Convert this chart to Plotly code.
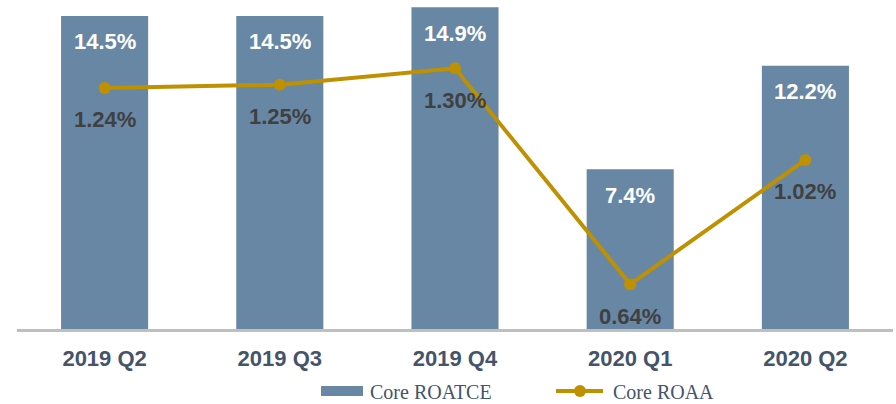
import plotly.graph_objects as go

categories = ["2019 Q2", "2019 Q3", "2019 Q4", "2020 Q1", "2020 Q2"]
roatce = [14.5, 14.5, 14.9, 7.4, 12.2]
roaa = [1.24, 1.25, 1.30, 0.64, 1.02]
roatce_labels = ["14.5%", "14.5%", "14.9%", "7.4%", "12.2%"]
roaa_labels = ["1.24%", "1.25%", "1.30%", "0.64%", "1.02%"]
series_names = ["Core ROATCE", "Core ROAA"]

BAR_COLOR = "#6787A5"
LINE_COLOR = "#BF9000"
TICK_COLOR = "#44546A"
LABEL_DARK = "#404040"

W, H = 896, 404
ML, MR, MT, MB = 17, 3, 0, 75

fig = go.Figure()
fig.add_trace(go.Bar(x=categories, y=roatce, name=series_names[0],
                     marker=dict(color=BAR_COLOR, line=dict(width=0)),
                     showlegend=False, yaxis="y"))
fig.add_trace(go.Scatter(x=categories, y=roaa, name=series_names[1],
                         mode="lines+markers",
                         line=dict(color=LINE_COLOR, width=4),
                         marker=dict(color=LINE_COLOR, size=12),
                         showlegend=False, yaxis="y2"))

annotations = []
for c, v, t in zip(categories, roatce, roatce_labels):
    annotations.append(dict(x=c, y=v, xref="x", yref="y", text=t, showarrow=False,
                            yshift=-26,
                            font=dict(family="Arial", size=22, color="white", weight="bold"),
                            xanchor="center", yanchor="middle"))
for c, v, t in zip(categories, roaa, roaa_labels):
    annotations.append(dict(x=c, y=v, xref="x", yref="y2", text=t, showarrow=False,
                            yshift=-32,
                            font=dict(family="Arial", size=22, color=LABEL_DARK, weight="bold"),
                            xanchor="center", yanchor="middle"))

# manual legend (pixel -> paper)
pw = W - ML - MR
ph = H - MT - MB
def px(x):
    return (x - ML) / pw
def py(y):
    return (H - MB - y) / ph

shapes = [
    dict(type="rect", xref="paper", yref="paper", x0=px(321), x1=px(363), y0=py(396), y1=py(386),
         fillcolor=BAR_COLOR, line=dict(width=0)),
    dict(type="line", xref="paper", yref="paper", x0=px(556), x1=px(603), y0=py(391), y1=py(391),
         line=dict(color=LINE_COLOR, width=4)),
    dict(type="circle", xref="paper", yref="paper", x0=px(574), x1=px(586), y0=py(397), y1=py(385),
         fillcolor=LINE_COLOR, line=dict(width=0)),
]
annotations.append(dict(xref="paper", yref="paper", x=px(368), y=py(392), text=series_names[0],
                        showarrow=False, xanchor="left", yanchor="middle",
                        font=dict(family="Liberation Serif", size=20, color=TICK_COLOR)))
annotations.append(dict(xref="paper", yref="paper", x=px(611), y=py(392), text=series_names[1],
                        showarrow=False, xanchor="left", yanchor="middle",
                        font=dict(family="Liberation Serif", size=20, color=TICK_COLOR)))

fig.update_layout(
    width=W, height=H,
    margin=dict(l=ML, r=MR, t=MT, b=MB, pad=0, autoexpand=False),
    paper_bgcolor="white", plot_bgcolor="white",
    bargap=0.503,
    xaxis=dict(showgrid=False, showline=True, linecolor="#BFBFBF", linewidth=3,
               ticks="", ticklabelstandoff=8, automargin=False,
               tickfont=dict(family="Arial", size=22, color=TICK_COLOR, weight="bold")),
    yaxis=dict(range=[0, 15.24], visible=False, showgrid=False, automargin=False),
    yaxis2=dict(range=[0.5035, 1.5087], overlaying="y", side="right", visible=False,
                showgrid=False, automargin=False),
    annotations=annotations,
    shapes=shapes,
)

fig.write_html("out.html", config={"displayModeBar": False},
               post_script="document.body.style.margin='0px';")
